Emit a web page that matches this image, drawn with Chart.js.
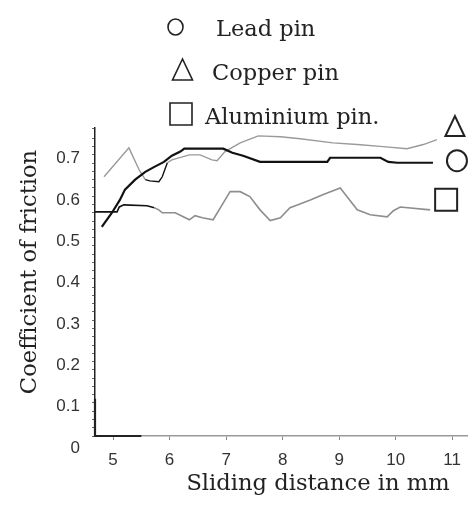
<!DOCTYPE html>
<html>
<head>
<meta charset="utf-8">
<script src="https://cdn.jsdelivr.net/npm/chart.js@4.4.0/dist/chart.umd.min.js"></script>
<style>
  html, body { margin: 0; padding: 0; background: #fff; }
  #wrap { width: 468px; height: 507px; position: relative; }
</style>
</head>
<body>
<div id="wrap"><canvas id="frictionChart"></canvas></div>
<script>
// values: sliding distance (mm) vs coefficient of friction
const leadX = [4.80, 4.98, 5.12, 5.21, 5.39, 5.57, 5.73, 5.90, 6.04, 6.19, 6.26, 6.75, 6.95, 7.11, 7.30, 7.60, 8.79, 8.84, 9.73, 9.87, 10.03, 10.66];
const leadY = [0.506, 0.540, 0.571, 0.596, 0.620, 0.639, 0.651, 0.663, 0.678, 0.688, 0.695, 0.695, 0.695, 0.685, 0.678, 0.663, 0.663, 0.673, 0.673, 0.663, 0.661, 0.661];

const copperX = [4.84, 5.28, 5.46, 5.57, 5.65, 5.81, 5.87, 5.96, 6.04, 6.35, 6.54, 6.75, 6.84, 6.98, 7.25, 7.57, 7.96, 8.31, 8.89, 9.32, 9.78, 10.20, 10.49, 10.73];
const copperY = [0.627, 0.697, 0.644, 0.620, 0.617, 0.615, 0.627, 0.661, 0.668, 0.680, 0.680, 0.668, 0.666, 0.688, 0.709, 0.726, 0.724, 0.719, 0.709, 0.705, 0.700, 0.695, 0.705, 0.717];

const aluX = [4.68, 5.07, 5.11, 5.19, 5.60, 5.73, 5.81, 5.87, 6.10, 6.35, 6.45, 6.58, 6.77, 6.95, 7.07, 7.25, 7.42, 7.60, 7.78, 7.96, 8.13, 8.26, 8.49, 8.72, 9.02, 9.32, 9.55, 9.85, 9.96, 10.08, 10.61];
const aluY = [0.542, 0.542, 0.554, 0.559, 0.557, 0.552, 0.547, 0.540, 0.540, 0.523, 0.533, 0.528, 0.523, 0.564, 0.591, 0.591, 0.579, 0.547, 0.521, 0.528, 0.552, 0.559, 0.571, 0.584, 0.600, 0.547, 0.535, 0.530, 0.545, 0.554, 0.547];

const xTicks = [5, 6, 7, 8, 9, 10, 11];
const seriesNames = ["Lead pin", "Copper pin", "Aluminium pin."];
const seriesShapes = ["circle", "triangle", "square"];

const serif = "'DejaVu Serif', serif";
const sans = "'Liberation Sans', Arial, sans-serif";

function toPoints(xs, ys) {
  return xs.map((x, i) => ({ x: x, y: ys[i] }));
}

// parts of the curves that print black in the original
function blackBetween(from, to) {
  return ctx => (ctx.p0.parsed.x >= from && ctx.p1.parsed.x <= to) ? "#111" : undefined;
}

function drawShape(ctx, shape, cx, cy, size) {
  ctx.beginPath();
  if (shape === "circle") {
    ctx.ellipse(cx, cy, size / 2, size / 2 + 0.5, 0, 0, Math.PI * 2);
  } else if (shape === "triangle") {
    ctx.moveTo(cx, cy - size / 2 - 1);
    ctx.lineTo(cx - size / 2, cy + size / 2);
    ctx.lineTo(cx + size / 2, cy + size / 2);
    ctx.closePath();
  } else {
    ctx.rect(cx - size / 2, cy - size / 2, size, size);
  }
  ctx.stroke();
}

const decorPlugin = {
  id: "decor",
  afterDraw(chart) {
    const ctx = chart.ctx;
    const xs = chart.scales.x;
    const ys = chart.scales.y;
    ctx.save();
    ctx.strokeStyle = "#222";
    ctx.fillStyle = "#222";

    // darker stub of both axes at the origin
    ctx.lineWidth = 2.2;
    ctx.beginPath();
    ctx.moveTo(xs.left, ys.getPixelForValue(0.09));
    ctx.lineTo(xs.left, ys.bottom);
    ctx.lineTo(xs.getPixelForValue(5.5), ys.bottom);
    ctx.stroke();

    // legend block at the top
    const rows = [
      { mx: 175.5, my: 27, size: 15, tx: 216, ty: 36 },
      { mx: 182.5, my: 70, size: 20, tx: 212, ty: 80 },
      { mx: 181, my: 114, size: 22, tx: 205, ty: 124 }
    ];
    ctx.lineWidth = 1.6;
    ctx.font = "22.5px " + serif;
    ctx.textBaseline = "alphabetic";
    ctx.textAlign = "left";
    rows.forEach((r, i) => {
      drawShape(ctx, seriesShapes[i], r.mx, r.my, r.size);
      ctx.fillText(seriesNames[i], r.tx, r.ty);
    });

    // shape tags at the right end of each curve
    const ends = [
      { dx: 24, dy: -2, size: 20 },
      { dx: 18, dy: -13, size: 19 },
      { dx: 16, dy: -10, size: 22 }
    ];
    ctx.lineWidth = 2;
    chart.data.datasets.forEach((ds, i) => {
      const last = ds.data[ds.data.length - 1];
      const px = xs.getPixelForValue(last.x) + ends[i].dx;
      const py = ys.getPixelForValue(last.y) + ends[i].dy;
      drawShape(ctx, seriesShapes[i], px, py, ends[i].size);
    });

    // axis titles
    ctx.font = "22.6px " + serif;
    ctx.textAlign = "center";
    ctx.textBaseline = "middle";
    ctx.fillText("Sliding distance in mm", 318, 484);
    ctx.translate(30, 272);
    ctx.rotate(-Math.PI / 2);
    ctx.fillText("Coefficient of friction", 0, 0);
    ctx.restore();
  }
};

new Chart(document.getElementById("frictionChart"), {
  type: "line",
  data: {
    datasets: [
      {
        label: seriesNames[0],
        data: toPoints(leadX, leadY),
        borderColor: "#111",
        borderWidth: 2.2
      },
      {
        label: seriesNames[1],
        data: toPoints(copperX, copperY),
        borderColor: "#9a9a9a",
        borderWidth: 1.4,
        segment: { borderColor: blackBetween(5.5, 5.97) }
      },
      {
        label: seriesNames[2],
        data: toPoints(aluX, aluY),
        borderColor: "#8e8e8e",
        borderWidth: 1.6,
        segment: { borderColor: blackBetween(4.6, 5.75) }
      }
    ]
  },
  options: {
    responsive: true,
    maintainAspectRatio: false,
    animation: false,
    elements: { point: { radius: 0 }, line: { tension: 0 } },
    layout: { padding: { top: 128, right: 0, left: 0, bottom: 0 } },
    plugins: { legend: { display: false }, tooltip: { enabled: false } },
    scales: {
      x: {
        type: "linear",
        min: 4.68,
        max: 11.28,
        afterBuildTicks: s => { s.ticks = xTicks.map(v => ({ value: v })); },
        afterFit: s => { s.height = 71; s.paddingRight = 0; s.paddingLeft = 0; },
        border: { color: "#9a9a9a", width: 1.5 },
        grid: { drawOnChartArea: false, tickLength: 4, color: "#888" },
        ticks: {
          autoSkip: false,
          maxRotation: 0,
          padding: 10,
          color: "#333",
          font: { family: sans, size: 17 }
        }
      },
      y: {
        min: 0,
        max: 0.745,
        afterFit: s => { s.width = 95; },
        border: { color: "#222", width: 1.5 },
        grid: { drawOnChartArea: false, tickLength: 3, color: "#666" },
        ticks: {
          stepSize: 0.02,
          autoSkip: false,
          padding: 12,
          labelOffset: 12,
          color: "#333",
          font: { family: sans, size: 17 },
          callback: v => {
            if (Math.abs(v * 10 - Math.round(v * 10)) > 1e-6) return "";
            return v === 0 ? "0" : v.toFixed(1);
          }
        }
      }
    }
  },
  plugins: [decorPlugin]
});
</script>
</body>
</html>
